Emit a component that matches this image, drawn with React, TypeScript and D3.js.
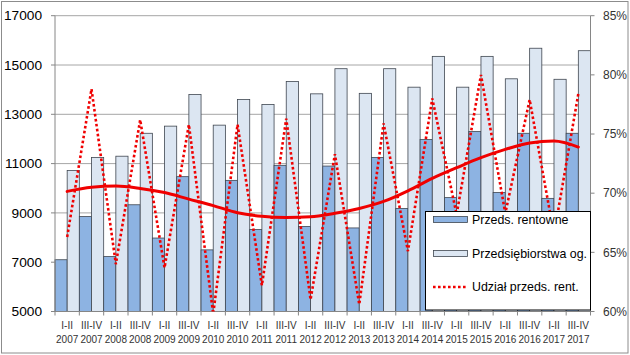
import React from "react";
import * as d3 from "d3";

const halves = ["I-II", "III-IV", "I-II", "III-IV", "I-II", "III-IV", "I-II", "III-IV", "I-II", "III-IV", "I-II", "III-IV", "I-II", "III-IV", "I-II", "III-IV", "I-II", "III-IV", "I-II", "III-IV", "I-II", "III-IV"];
const years = ["2007", "2007", "2008", "2008", "2009", "2009", "2010", "2010", "2011", "2011", "2012", "2012", "2013", "2013", "2014", "2014", "2015", "2015", "2016", "2016", "2017", "2017"];
const rentowne = [7100, 8850, 7230, 9330, 7980, 10470, 7500, 10320, 8330, 10930, 8450, 10900, 8390, 11250, 9180, 11980, 9620, 12300, 9830, 12230, 9590, 12230];
const ogolem = [10720, 11250, 11300, 12230, 12520, 13800, 12560, 13600, 13400, 14330, 13830, 14850, 13850, 14850, 14100, 15350, 14100, 15350, 14440, 15680, 14420, 15580];
const udzial = [66.3, 78.8, 64.0, 76.2, 63.7, 75.8, 59.8, 75.8, 62.2, 76.3, 61.0, 73.3, 60.6, 75.9, 65.1, 78.0, 68.2, 80.0, 68.3, 77.9, 66.5, 78.4];
const trend = [70.15, 70.5, 70.6, 70.4, 70.05, 69.5, 68.95, 68.35, 68.05, 67.95, 68.0, 68.3, 68.7, 69.3, 70.2, 71.25, 72.15, 73.0, 73.7, 74.25, 74.4, 73.9];
const leftTicks = [5000, 7000, 9000, 11000, 13000, 15000, 17000];
const rightTicks = [60, 65, 70, 75, 80, 85];
const legendLabels = ["Przeds. rentowne", "Przedsiębiorstwa og.", "Udział przeds. rent."];

const W = 630, H = 355;
const L = 55, R = 590.5, T = 15.7, B = 311.5;
const DARK = "#8DB3E2", LIGHT = "#DCE6F2", EDGE = "#3F4650", RED = "#F00000";
const FONT = "'Liberation Sans', Arial, sans-serif";

export default function App() {
  const idx = d3.range(halves.length).map(String);
  const x = d3.scaleBand<string>().domain(idx).range([L, R]).padding(0);
  const bw = x.bandwidth();
  const yL = d3.scaleLinear().domain([5000, 17000]).range([B, T]);
  const yR = d3.scaleLinear().domain([60, 85]).range([B, T]);
  const cx = (i: number) => (x(String(i)) as number) + bw / 2;

  const dotLine = d3.line<number>().x((_, i) => cx(i)).y((d) => yR(d));
  const trendLine = d3.line<number>().x((_, i) => cx(i)).y((d) => yR(d)).curve(d3.curveMonotoneX);

  return (
    <svg width={W} height={H} style={{ position: "absolute", left: 0, top: 0, background: "#fff" }} fontFamily={FONT}>
      <defs>
        <clipPath id="plotclip">
          <rect x={L} y={T} width={R - L} height={B - T} />
        </clipPath>
      </defs>
      <rect x={1.5} y={1.5} width={W - 3.5} height={H - 3.5} fill="#fff" stroke="#8c8c8c" strokeWidth={1} />
      {/* gridlines */}
      {leftTicks.map((t) => (
        <line key={t} x1={L} x2={R} y1={yL(t)} y2={yL(t)} stroke="#a6a6a6" strokeWidth={1} />
      ))}
      {/* bars */}
      {idx.map((k, i) => (
        <g key={k}>
          <rect x={x(k)} y={yL(rentowne[i])} width={bw / 2} height={B - yL(rentowne[i])} fill={DARK} stroke={EDGE} strokeWidth={0.8} />
          <rect x={(x(k) as number) + bw / 2} y={yL(ogolem[i])} width={bw / 2} height={B - yL(ogolem[i])} fill={LIGHT} stroke={EDGE} strokeWidth={0.8} />
        </g>
      ))}
      {/* axes */}
      <line x1={L} x2={L} y1={T} y2={B} stroke="#868686" />
      <line x1={R} x2={R} y1={T} y2={B} stroke="#868686" />
      <line x1={L} x2={R} y1={B} y2={B} stroke="#868686" />
      {leftTicks.map((t) => (
        <g key={"l" + t}>
          <line x1={L - 4} x2={L} y1={yL(t)} y2={yL(t)} stroke="#868686" />
          <text x={42} y={yL(t)} dy="0.35em" textAnchor="end" fontSize={13.7} fill="#000">{t}</text>
        </g>
      ))}
      {rightTicks.map((t) => (
        <g key={"r" + t}>
          <line x1={R} x2={R + 4} y1={yR(t)} y2={yR(t)} stroke="#868686" />
          <text x={603} y={yR(t)} dy="0.35em" textAnchor="start" fontSize={12} fill="#333">{t}%</text>
        </g>
      ))}
      {d3.range(halves.length + 1).map((i) => {
        const xx = L + i * bw;
        return <line key={"xt" + i} x1={xx} x2={xx} y1={B} y2={B + 4} stroke="#868686" />;
      })}
      {idx.map((k, i) => (
        <g key={"xl" + k}>
          <text x={cx(i)} y={325} dy="0.35em" textAnchor="middle" fontSize={10} fill="#333">{halves[i]}</text>
          <text x={cx(i)} y={339} dy="0.35em" textAnchor="middle" fontSize={10} fill="#333">{years[i]}</text>
        </g>
      ))}
      {/* lines */}
      <g clipPath="url(#plotclip)">
        <path d={dotLine(udzial) || ""} fill="none" stroke={RED} strokeWidth={2.6} strokeDasharray="2.6 2.4" />
        <path d={trendLine(trend) || ""} fill="none" stroke={RED} strokeWidth={3} strokeLinejoin="round" strokeLinecap="round" />
      </g>
      {/* legend */}
      <g>
        <rect x={425.5} y={211.5} width={165} height={98.5} fill="#fff" stroke="#000" strokeWidth={1} />
        <rect x={433.5} y={216.5} width={34} height={6} fill={DARK} stroke={EDGE} strokeWidth={0.8} />
        <text x={472} y={219.5} dy="0.35em" fontSize={12.4} fill="#000">{legendLabels[0]}</text>
        <rect x={433.5} y={250.5} width={34} height={6} fill={LIGHT} stroke={EDGE} strokeWidth={0.8} />
        <text x={472} y={253.5} dy="0.35em" fontSize={12.4} fill="#000">{legendLabels[1]}</text>
        <line x1={433} x2={468} y1={287} y2={287} stroke={RED} strokeWidth={2.6} strokeDasharray="2.6 2.4" />
        <text x={472} y={287} dy="0.35em" fontSize={12.4} fill="#000">{legendLabels[2]}</text>
      </g>
    </svg>
  );
}
